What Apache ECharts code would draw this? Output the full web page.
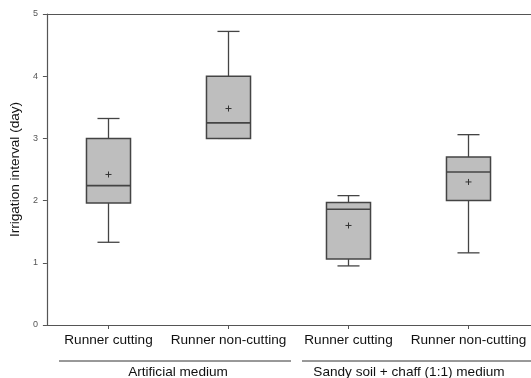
<!DOCTYPE html>
<html><head><meta charset="utf-8">
<script src="https://cdn.jsdelivr.net/npm/echarts@6/dist/echarts.min.js"></script>
<style>html,body{margin:0;padding:0;background:#fff}#c{width:531px;height:378px}</style>
</head><body><div id="c"></div>
<script>
var categories = ['Runner cutting', 'Runner non-cutting', 'Runner cutting', 'Runner non-cutting'];
var groups = ['Artificial medium', 'Sandy soil + chaff (1:1) medium'];
var lowWhisker = [1.33, 3.00, 0.95, 1.16];
var q1 = [1.96, 3.00, 1.06, 2.00];
var median = [2.24, 3.25, 1.86, 2.46];
var q3 = [3.00, 4.00, 1.97, 2.70];
var highWhisker = [3.32, 4.72, 2.08, 3.06];
var mean = [2.42, 3.48, 1.60, 2.30];
var yTicks = [0, 1, 2, 3, 4, 5];

var data = categories.map(function (c, i) {
  return [i, lowWhisker[i], q1[i], median[i], q3[i], highWhisker[i], mean[i]];
});

var FONT = 'Liberation Sans, Arial, sans-serif';
var AX = '#555';
var chart = echarts.init(document.getElementById('c'), null, { renderer: 'canvas' });
var TOP = 14, BOTTOM = 53;

chart.setOption({
  animation: false,
  grid: [
    { left: 42, right: 0, top: TOP, bottom: BOTTOM },
    { left: 48.5, width: 480, top: TOP, bottom: BOTTOM }
  ],
  xAxis: [
    { gridIndex: 0, type: 'value', min: 0, max: 1, position: 'bottom',
      axisLine: { show: true, lineStyle: { color: AX, width: 1.2 } },
      axisTick: { show: false }, axisLabel: { show: false }, splitLine: { show: false } },
    { gridIndex: 0, type: 'value', min: 0, max: 1, position: 'top',
      axisLine: { show: true, lineStyle: { color: AX, width: 1.2 } },
      axisTick: { show: false }, axisLabel: { show: false }, splitLine: { show: false } },
    { gridIndex: 1, type: 'category', data: categories, boundaryGap: true, position: 'bottom',
      axisLine: { show: false },
      axisTick: { show: true, alignWithLabel: true, length: 4, lineStyle: { color: AX } },
      axisLabel: { show: true, interval: 0, margin: 8, fontFamily: FONT, fontSize: 13.6, color: '#111' },
      splitLine: { show: false } }
  ],
  yAxis: [
    { gridIndex: 0, type: 'value', min: yTicks[0], max: yTicks[yTicks.length - 1], interval: 1,
      axisLine: { show: true, lineStyle: { color: AX, width: 1.2 } },
      axisTick: { show: true, length: 4, lineStyle: { color: AX } },
      axisLabel: { fontFamily: FONT, fontSize: 9, color: '#555', margin: 9 },
      splitLine: { show: false },
      name: 'Irrigation interval (day)', nameLocation: 'middle', nameGap: 21, nameRotate: 90,
      nameTextStyle: { fontFamily: FONT, fontSize: 13.6, color: '#111' } },
    { gridIndex: 1, type: 'value', min: yTicks[0], max: yTicks[yTicks.length - 1], show: false }
  ],
  series: [{
    type: 'custom',
    xAxisIndex: 2, yAxisIndex: 1,
    data: data,
    encode: { x: 0, y: [1, 2, 3, 4, 5, 6] },
    renderItem: function (params, api) {
      var x = api.value(0);
      var lo = api.coord([x, api.value(1)]);
      var b1 = api.coord([x, api.value(2)]);
      var md = api.coord([x, api.value(3)]);
      var b3 = api.coord([x, api.value(4)]);
      var hi = api.coord([x, api.value(5)]);
      var mn = api.coord([x, api.value(6)]);
      var bw = api.size([1, 0])[0] * 0.367;
      var hw = bw / 2, cw = bw / 4, cx = lo[0];
      var ls = { stroke: '#444', lineWidth: 1.3, fill: null };
      var children = [
        { type: 'line', shape: { x1: cx, y1: lo[1], x2: cx, y2: b1[1] }, style: ls },
        { type: 'line', shape: { x1: cx, y1: b3[1], x2: cx, y2: hi[1] }, style: ls },
        { type: 'line', shape: { x1: cx - cw, y1: lo[1], x2: cx + cw, y2: lo[1] }, style: ls },
        { type: 'line', shape: { x1: cx - cw, y1: hi[1], x2: cx + cw, y2: hi[1] }, style: ls },
        { type: 'rect', shape: { x: cx - hw, y: b3[1], width: bw, height: b1[1] - b3[1] },
          style: { fill: '#bebebe', stroke: '#444', lineWidth: 1.5 } },
        { type: 'line', shape: { x1: cx - hw, y1: md[1], x2: cx + hw, y2: md[1] },
          style: { stroke: '#444', lineWidth: 1.6 } },
        { type: 'line', shape: { x1: cx - 3, y1: mn[1], x2: cx + 3, y2: mn[1] }, style: { stroke: '#333', lineWidth: 1 } },
        { type: 'line', shape: { x1: cx, y1: mn[1] - 3, x2: cx, y2: mn[1] + 3 }, style: { stroke: '#333', lineWidth: 1 } }
      ];
      return { type: 'group', children: children };
    }
  }],
  graphic: [
    { type: 'line', shape: { x1: 59, y1: 361, x2: 291, y2: 361 }, style: { stroke: '#333', lineWidth: 1 } },
    { type: 'line', shape: { x1: 302, y1: 361, x2: 531, y2: 361 }, style: { stroke: '#333', lineWidth: 1 } },
    { type: 'text', x: 178, y: 372, style: { text: groups[0], font: '13.6px ' + FONT, fill: '#111', textAlign: 'center', textVerticalAlign: 'middle' } },
    { type: 'text', x: 409, y: 372, style: { text: groups[1], font: '13.6px ' + FONT, fill: '#111', textAlign: 'center', textVerticalAlign: 'middle' } }
  ]
});
</script></body></html>
